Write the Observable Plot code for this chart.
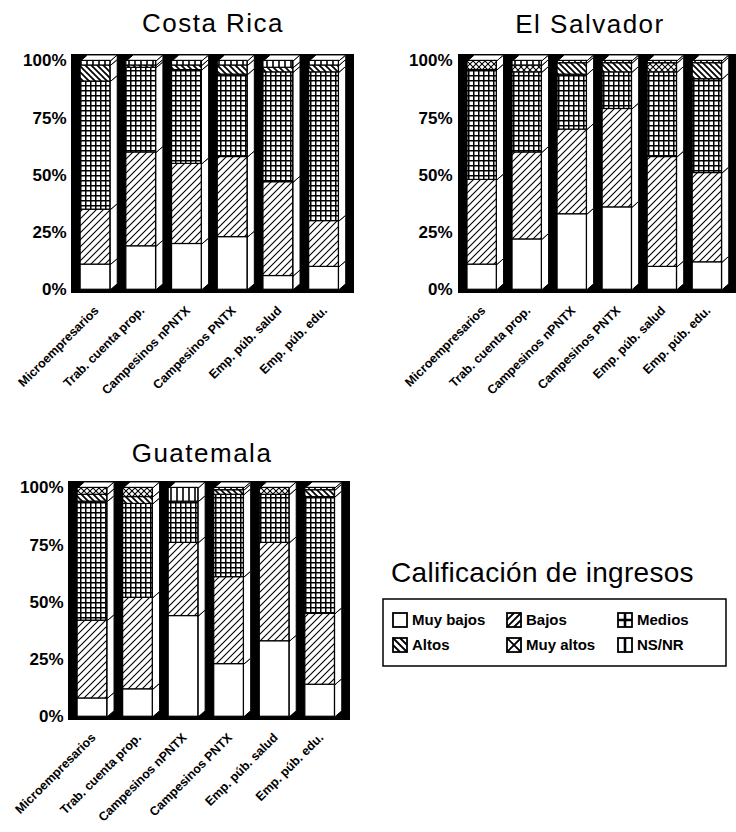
<!DOCTYPE html>
<html><head><meta charset="utf-8">
<script src="https://cdn.jsdelivr.net/npm/d3@7"></script>
<script src="https://cdn.jsdelivr.net/npm/@observablehq/plot@0.6"></script>
<style>
body{margin:0;background:#fff;}
#root{position:relative;width:736px;height:832px;overflow:hidden;background:#fff;}
.panel{position:absolute;}
#overlay{position:absolute;left:0;top:0;pointer-events:none;}
</style></head><body>
<svg width="0" height="0" style="position:absolute">
<defs>
<pattern id="pBajos" patternUnits="userSpaceOnUse" width="7" height="7">
 <rect width="7" height="7" fill="white"/>
 <path d="M-1,1L1,-1M0,7L7,0M6,8L8,6" stroke="black" stroke-width="1.1"/>
</pattern>
<pattern id="pMedios" patternUnits="userSpaceOnUse" width="5" height="5">
 <rect width="5" height="5" fill="white"/>
 <path d="M0,0.75H5M0.75,0V5" stroke="black" stroke-width="1.5"/>
</pattern>
<pattern id="pAltos" patternUnits="userSpaceOnUse" width="6" height="6">
 <rect width="6" height="6" fill="white"/>
 <path d="M-1,5L1,7M0,0L6,6M5,-1L7,1" stroke="black" stroke-width="1.7"/>
</pattern>
<pattern id="pMuyAltos" patternUnits="userSpaceOnUse" width="6" height="6">
 <rect width="6" height="6" fill="white"/>
 <path d="M0,0L6,6M6,0L0,6" stroke="black" stroke-width="1.1"/>
</pattern>
<pattern id="pNSNR" patternUnits="userSpaceOnUse" width="6" height="6">
 <rect width="6" height="6" fill="white"/>
 <path d="M3,0V6" stroke="black" stroke-width="1.6"/>
</pattern>
</defs>
</svg>
<div id="root"></div>
<script>
// ---- data ----
const categories = ["Microempresarios", "Trab. cuenta prop.", "Campesinos nPNTX", "Campesinos PNTX", "Emp. púb. salud", "Emp. púb. edu."];
const levels = ["Muy bajos", "Bajos", "Medios", "Altos", "Muy altos", "NS/NR"];
const yTicks = [0, 0.25, 0.5, 0.75, 1];
// each row: one category; columns follow `levels` (percent)
const costaRica = [
  [11, 24, 56, 7, 0, 2],
  [19, 41, 37, 1, 0, 2],
  [20, 35, 41, 2, 0, 2],
  [23, 35, 36, 4, 0, 2],
  [6, 41, 48, 2, 0, 3],
  [10, 20, 65, 3, 0, 2]
];
const elSalvador = [
  [11, 37, 48, 0, 4, 0],
  [22, 38, 35, 0, 3, 2],
  [33, 37, 24, 5, 0, 1],
  [36, 43, 16, 4, 0, 1],
  [10, 48, 37, 0, 4, 1],
  [12, 39, 41, 7, 0, 1]
];
const guatemala = [
  [8, 34, 52, 3, 3, 0],
  [12, 40, 41, 3, 4, 0],
  [44, 32, 18, 0, 0, 6],
  [23, 38, 36, 2, 0, 1],
  [33, 43, 21, 0, 3, 0],
  [14, 31, 51, 3, 0, 1]
];
const patternFill = {
  "Muy bajos": "white",
  "Bajos": "url(#pBajos)",
  "Medios": "url(#pMedios)",
  "Altos": "url(#pAltos)",
  "Muy altos": "url(#pMuyAltos)",
  "NS/NR": "url(#pNSNR)"
};

// ---- geometry of the pseudo-3D bars (in scale units) ----
const FRONT = 0.65, DX = 0.15, DY = 0.026;

function buildSegments(matrix) {
  const segs = [];
  matrix.forEach((vals, i) => {
    const total = d3.sum(vals);
    let acc = 0;
    vals.forEach((v, j) => {
      const y1 = acc / total; acc += v; const y2 = acc / total;
      if (v > 0) segs.push({i, level: levels[j], y1, y2});
    });
  });
  return segs;
}

function panel(matrix, o) {
  const segs = buildSegments(matrix);
  const sidePts = [];
  segs.forEach((s, k) => {
    const xa = s.i + FRONT, xb = s.i + FRONT + DX;
    sidePts.push({id: k, x: xa, y: s.y1}, {id: k, x: xb, y: s.y1 + DY}, {id: k, x: xb, y: s.y2 + DY}, {id: k, x: xa, y: s.y2});
  });
  const topPts = [];
  categories.forEach((c, i) => {
    topPts.push({id: i, x: i, y: 1}, {id: i, x: i + DX, y: 1 + DY}, {id: i, x: i + FRONT + DX, y: 1 + DY}, {id: i, x: i + FRONT, y: 1});
  });
  const tickPos = categories.map((c, i) => i + 0.35);
  return Plot.plot({
    width: 368, height: 360,
    marginLeft: o.ml, marginRight: o.mr, marginTop: 14, marginBottom: 108,
    x: {type: "linear", domain: o.xd},
    y: {type: "linear", domain: [-0.012, 1.028]},
    style: {fontFamily: "'Liberation Sans', Arial, sans-serif", background: "transparent", overflow: "visible", color: "black"},
    marks: [
      Plot.frame({fill: "black", stroke: "black"}),
      Plot.line(sidePts, {x: "x", y: "y", z: "id", curve: "linear-closed", fill: "white", stroke: "black", strokeWidth: 1}),
      Plot.line(topPts, {x: "x", y: "y", z: "id", curve: "linear-closed", fill: "white", stroke: "black", strokeWidth: 1}),
      ...levels.map(l => Plot.rect(segs.filter(s => s.level === l), {
        x1: d => d.i, x2: d => d.i + FRONT, y1: "y1", y2: "y2",
        fill: patternFill[l], stroke: "black", strokeWidth: 1.2
      })),
      Plot.axisY(yTicks, {tickFormat: d3.format(".0%"), tickSize: 0, tickPadding: o.tp, fontSize: 17, fontWeight: "bold", label: null}),
      Plot.axisX(tickPos, {tickFormat: d => categories[Math.round(d - 0.35)], tickRotate: -45, tickSize: 0, tickPadding: 16, fontSize: 12.5, fontWeight: "bold", label: null})
    ]
  });
}

const root = document.getElementById("root");
function place(node, left, top) {
  const d = document.createElement("div");
  d.className = "panel"; d.style.left = left + "px"; d.style.top = top + "px";
  d.appendChild(node); root.appendChild(d);
}
place(panel(costaRica, {ml: 71, mr: 15, xd: [-0.2, 5.97], tp: 5}), 0, 40);
place(panel(elSalvador, {ml: 90, mr: 1, xd: [-0.2, 5.95], tp: 6}), 368, 40);
place(panel(guatemala, {ml: 68, mr: 19, xd: [-0.2, 5.97], tp: 5}), 0, 467);

// ---- titles and legend ----
const ns = "http://www.w3.org/2000/svg";
const ov = document.createElementNS(ns, "svg");
ov.setAttribute("id", "overlay"); ov.setAttribute("width", 736); ov.setAttribute("height", 832);
ov.style.fontFamily = "'Liberation Sans', Arial, sans-serif";
root.appendChild(ov);
function txt(s, x, y, size, anchor, weight, ls) {
  const t = document.createElementNS(ns, "text");
  t.textContent = s; t.setAttribute("x", x); t.setAttribute("y", y);
  t.setAttribute("font-size", size); t.setAttribute("text-anchor", anchor || "start");
  if (weight) t.setAttribute("font-weight", weight);
  if (ls) t.setAttribute("letter-spacing", ls);
  ov.appendChild(t); return t;
}
function el(tag, attrs) {
  const e = document.createElementNS(ns, tag);
  for (const k in attrs) e.setAttribute(k, attrs[k]);
  ov.appendChild(e); return e;
}
txt("Costa Rica", 213, 32, 26, "middle", null, 1.5);
txt("El Salvador", 590, 33, 26, "middle", null, 1.5);
txt("Guatemala", 202, 462, 26, "middle", null, 1.5);
txt("Calificación de ingresos", 391, 582, 28, "start", null, 0.3);
el("rect", {x: 383, y: 599, width: 343, height: 67, fill: "none", stroke: "black", "stroke-width": 1.5});

const swatchPos = [[393, 613], [507, 613], [618, 613], [393, 638], [507, 638], [618, 638]];
const legendOrder = ["Muy bajos", "Bajos", "Medios", "Altos", "Muy altos", "NS/NR"];
const swPaths = {
  "Muy bajos": "",
  "Bajos": "M0,14L14,0M0,7L7,0M7,14L14,7",
  "Medios": "M7,0V14M0,7H14",
  "Altos": "M0,0L14,14M0,7L7,14M7,0L14,7",
  "Muy altos": "M0,0L14,14M14,0L0,14",
  "NS/NR": "M7,0V14"
};
legendOrder.forEach((l, k) => {
  const [x, y] = swatchPos[k];
  const g = el("g", {transform: `translate(${x},${y})`});
  const r = document.createElementNS(ns, "rect");
  r.setAttribute("width", 14); r.setAttribute("height", 14); r.setAttribute("fill", "white");
  r.setAttribute("stroke", "black"); r.setAttribute("stroke-width", 1.8);
  g.appendChild(r);
  if (swPaths[l]) {
    const p = document.createElementNS(ns, "path");
    p.setAttribute("d", swPaths[l]); p.setAttribute("stroke", "black");
    p.setAttribute("stroke-width", l === "Medios" || l === "NS/NR" ? 2.6 : 1.8);
    g.appendChild(p);
  }
  txt(l, x + 19, y + 12, 15, "start", "bold");
});
</script>
</body></html>
